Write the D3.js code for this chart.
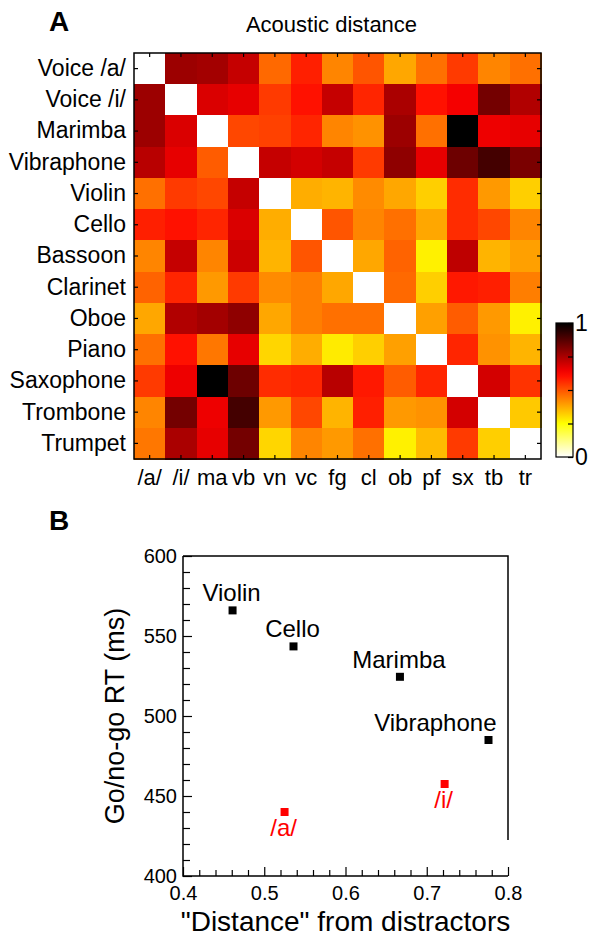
<!DOCTYPE html>
<html>
<head>
<meta charset="utf-8">
<script src="https://cdn.jsdelivr.net/npm/d3@7"></script>
<style>
  body { margin: 0; background: #fff; }
  svg { display: block; font-family: "Liberation Sans", Arial, Helvetica, sans-serif; }
</style>
</head>
<body>
<svg id="chart" width="589" height="938"></svg>
<script>
// panel A: acoustic distance matrix (rows = instruments, cols = abbrevs)
var instruments = ["Voice /a/", "Voice /i/", "Marimba", "Vibraphone", "Violin", "Cello", "Bassoon",
                   "Clarinet", "Oboe", "Piano", "Saxophone", "Trombone", "Trumpet"];
var abbrevs = ["/a/", "/i/", "ma", "vb", "vn", "vc", "fg", "cl", "ob", "pf", "sx", "tb", "tr"];
var distance = [
  [0.00, 0.77, 0.76, 0.71, 0.47, 0.58, 0.43, 0.50, 0.38, 0.46, 0.54, 0.43, 0.46],
  [0.77, 0.00, 0.68, 0.66, 0.54, 0.60, 0.71, 0.57, 0.75, 0.60, 0.64, 0.83, 0.74],
  [0.77, 0.68, 0.00, 0.52, 0.53, 0.57, 0.43, 0.41, 0.77, 0.46, 1.00, 0.65, 0.66],
  [0.73, 0.66, 0.49, 0.00, 0.71, 0.69, 0.71, 0.54, 0.79, 0.66, 0.84, 0.90, 0.82],
  [0.46, 0.54, 0.52, 0.71, 0.00, 0.37, 0.36, 0.42, 0.38, 0.32, 0.56, 0.40, 0.32],
  [0.58, 0.60, 0.57, 0.68, 0.37, 0.00, 0.50, 0.43, 0.46, 0.38, 0.56, 0.52, 0.43],
  [0.43, 0.71, 0.43, 0.70, 0.36, 0.50, 0.00, 0.38, 0.48, 0.27, 0.72, 0.36, 0.39],
  [0.48, 0.57, 0.40, 0.54, 0.42, 0.44, 0.38, 0.00, 0.47, 0.32, 0.59, 0.58, 0.44],
  [0.38, 0.74, 0.76, 0.79, 0.38, 0.44, 0.46, 0.46, 0.00, 0.39, 0.49, 0.40, 0.27],
  [0.46, 0.60, 0.45, 0.66, 0.31, 0.37, 0.28, 0.32, 0.39, 0.00, 0.57, 0.41, 0.36],
  [0.54, 0.65, 1.00, 0.84, 0.56, 0.57, 0.73, 0.59, 0.49, 0.57, 0.00, 0.69, 0.55],
  [0.43, 0.83, 0.65, 0.90, 0.40, 0.52, 0.36, 0.58, 0.40, 0.41, 0.69, 0.00, 0.33],
  [0.45, 0.75, 0.66, 0.83, 0.31, 0.43, 0.40, 0.46, 0.27, 0.35, 0.54, 0.32, 0.00]
];
var colorbarTicks = [0, 0.25, 0.5, 0.75, 1];

// panel B: RT vs distance from distractors
var rtLabels = ["Violin", "Cello", "Marimba", "Vibraphone", "/a/", "/i/"];
var rtDistance = [0.461, 0.536, 0.667, 0.776, 0.525, 0.722];
var rtMs = [566, 543.5, 524.5, 485, 440, 457.5];
var rtIsVoice = [false, false, false, false, true, true];

var svg = d3.select("#chart");

// reversed matlab "hot": 0 = white, 1 = black
function hotR(v) {
  var s = 1 - v;
  var r = Math.min(1, s / 0.375),
      g = Math.max(0, Math.min(1, (s - 0.375) / 0.375)),
      b = Math.max(0, Math.min(1, (s - 0.75) / 0.25));
  return d3.rgb(r * 255, g * 255, b * 255).toString();
}
var color = d3.scaleSequential(hotR).domain([0, 1]);

// ---------- panel A ----------
var hm = {left: 134, right: 541, top: 53, bottom: 459};
var x = d3.scaleBand().domain(abbrevs).range([hm.left, hm.right]);
var y = d3.scaleBand().domain(instruments).range([hm.top, hm.bottom]);

var cells = [];
distance.forEach(function(row, i) {
  row.forEach(function(v, j) { cells.push({row: instruments[i], col: abbrevs[j], v: v}); });
});

svg.append("g").selectAll("rect")
    .data(cells)
  .enter().append("rect")
    .attr("x", function(d) { return x(d.col); })
    .attr("y", function(d) { return y(d.row); })
    .attr("width", x.bandwidth() + 0.5)
    .attr("height", y.bandwidth() + 0.5)
    .attr("fill", function(d) { return color(d.v); })
    .attr("shape-rendering", "crispEdges");

function styleAxis(g, size) {
  g.select(".domain").remove();
  g.selectAll("line").attr("stroke", "#000").attr("stroke-width", 1.2);
  g.selectAll("text").attr("font-size", size).attr("fill", "#000").attr("font-family", null);
}

svg.append("g").attr("transform", "translate(" + hm.left + ",0)")
    .call(d3.axisLeft(y).tickSize(-4).tickSizeOuter(0).tickPadding(8))
    .call(styleAxis, 23)
    .selectAll("text").attr("dy", "0.32em");
svg.append("g").attr("transform", "translate(" + hm.right + ",0)")
    .call(d3.axisRight(y).tickSize(-4).tickSizeOuter(0).tickFormat(""))
    .call(styleAxis, 20);
svg.append("g").attr("transform", "translate(0," + hm.bottom + ")")
    .call(d3.axisBottom(x).tickSize(-4).tickSizeOuter(0).tickPadding(10))
    .call(styleAxis, 22)
    .selectAll("text").attr("dy", "0.71em");
svg.append("g").attr("transform", "translate(0," + hm.top + ")")
    .call(d3.axisTop(x).tickSize(-4).tickSizeOuter(0).tickFormat(""))
    .call(styleAxis, 20);

svg.append("rect")
    .attr("x", hm.left).attr("y", hm.top)
    .attr("width", hm.right - hm.left).attr("height", hm.bottom - hm.top)
    .attr("fill", "none").attr("stroke", "#000").attr("stroke-width", 1.5);

svg.append("text")
    .attr("x", (hm.left + hm.right) / 2 - 6).attr("y", 32)
    .attr("text-anchor", "middle").attr("font-size", 22)
    .text("Acoustic distance");

svg.append("text").attr("x", 49).attr("y", 31)
    .attr("font-size", 28).attr("font-weight", "bold").text("A");

// colorbar
var cb = {left: 556, right: 573, top: 323, bottom: 457};
var cy = d3.scaleLinear().domain([0, 1]).range([cb.bottom, cb.top]);
var defs = svg.append("defs");
var grad = defs.append("linearGradient").attr("id", "hotgrad")
    .attr("x1", 0).attr("y1", 1).attr("x2", 0).attr("y2", 0);
grad.selectAll("stop")
    .data(d3.range(0, 1.0001, 0.05))
  .enter().append("stop")
    .attr("offset", function(d) { return d; })
    .attr("stop-color", function(d) { return color(d); });

svg.append("rect")
    .attr("x", cb.left).attr("y", cb.top)
    .attr("width", cb.right - cb.left).attr("height", cb.bottom - cb.top)
    .attr("fill", "url(#hotgrad)").attr("stroke", "#000").attr("stroke-width", 1.2);

svg.append("g").attr("transform", "translate(" + cb.right + ",0)")
    .call(d3.axisRight(cy).tickValues(colorbarTicks).tickSize(-5).tickPadding(2)
      .tickFormat(function(d) { return (d === 0 || d === 1) ? d : ""; }))
    .call(styleAxis, 23);

// ---------- panel B ----------
var sp = {left: 183, right: 508, top: 556, bottom: 876};
var xs = d3.scaleLinear().domain([0.4, 0.8]).range([sp.left, sp.right]);
var ys = d3.scaleLinear().domain([400, 600]).range([sp.bottom, sp.top]);

var yAxis = svg.append("g").attr("transform", "translate(" + sp.left + ",0)")
    .call(d3.axisLeft(ys).tickValues(d3.range(400, 601, 10)).tickSize(-7).tickPadding(6)
      .tickFormat(function(d) { return d % 50 === 0 ? d : ""; }))
    .call(styleAxis, 20);
yAxis.selectAll(".tick line").attr("x2", function(d) { return d % 50 === 0 ? 9 : 7; });

var xAxis = svg.append("g").attr("transform", "translate(0," + sp.bottom + ")")
    .call(d3.axisBottom(xs).tickValues(d3.range(0, 21).map(function(i) { return 0.4 + i * 0.02; }))
      .tickSize(-6).tickPadding(10)
      .tickFormat(function(d, i) { return i % 5 === 0 ? d3.format(".1f")(d) : ""; }))
    .call(styleAxis, 20);
xAxis.selectAll(".tick line").attr("y2", function(d, i) { return i % 5 === 0 ? -9 : -6; });

// frame (right edge stops short near the bottom, as in the source)
svg.append("path")
    .attr("d", "M" + sp.left + "," + sp.top + "V" + sp.bottom + "H" + sp.right +
               "M" + sp.left + "," + sp.top + "H" + sp.right + "V" + ys(422.5))
    .attr("fill", "none").attr("stroke", "#000").attr("stroke-width", 1.5);

var pts = rtLabels.map(function(l, i) {
  return {label: l, d: rtDistance[i], rt: rtMs[i], voice: rtIsVoice[i]};
});

svg.append("g").selectAll("rect")
    .data(pts)
  .enter().append("rect")
    .attr("x", function(d) { return xs(d.d) - 4; })
    .attr("y", function(d) { return ys(d.rt) - 4; })
    .attr("width", 8).attr("height", 8)
    .attr("fill", function(d) { return d.voice ? "#f00" : "#000"; });

svg.append("g").selectAll("text")
    .data(pts)
  .enter().append("text")
    .attr("x", function(d) { return d.label === "Vibraphone" ? xs(d.d) + 8 : xs(d.d) - 1; })
    .attr("y", function(d) { return d.voice ? ys(d.rt) + 24 : ys(d.rt) - 9; })
    .attr("text-anchor", function(d) { return d.label === "Vibraphone" ? "end" : "middle"; })
    .attr("font-size", 24)
    .attr("fill", function(d) { return d.voice ? "#f00" : "#000"; })
    .text(function(d) { return d.label; });

svg.append("text")
    .attr("transform", "translate(124," + (sp.top + sp.bottom) / 2 + ") rotate(-90)")
    .attr("text-anchor", "middle").attr("font-size", 27)
    .text("Go/no-go RT (ms)");

svg.append("text")
    .attr("x", (sp.left + sp.right) / 2).attr("y", 931)
    .attr("text-anchor", "middle").attr("font-size", 28)
    .text("\"Distance\" from distractors");

svg.append("text").attr("x", 49).attr("y", 530)
    .attr("font-size", 28).attr("font-weight", "bold").text("B");
</script>
</body>
</html>
